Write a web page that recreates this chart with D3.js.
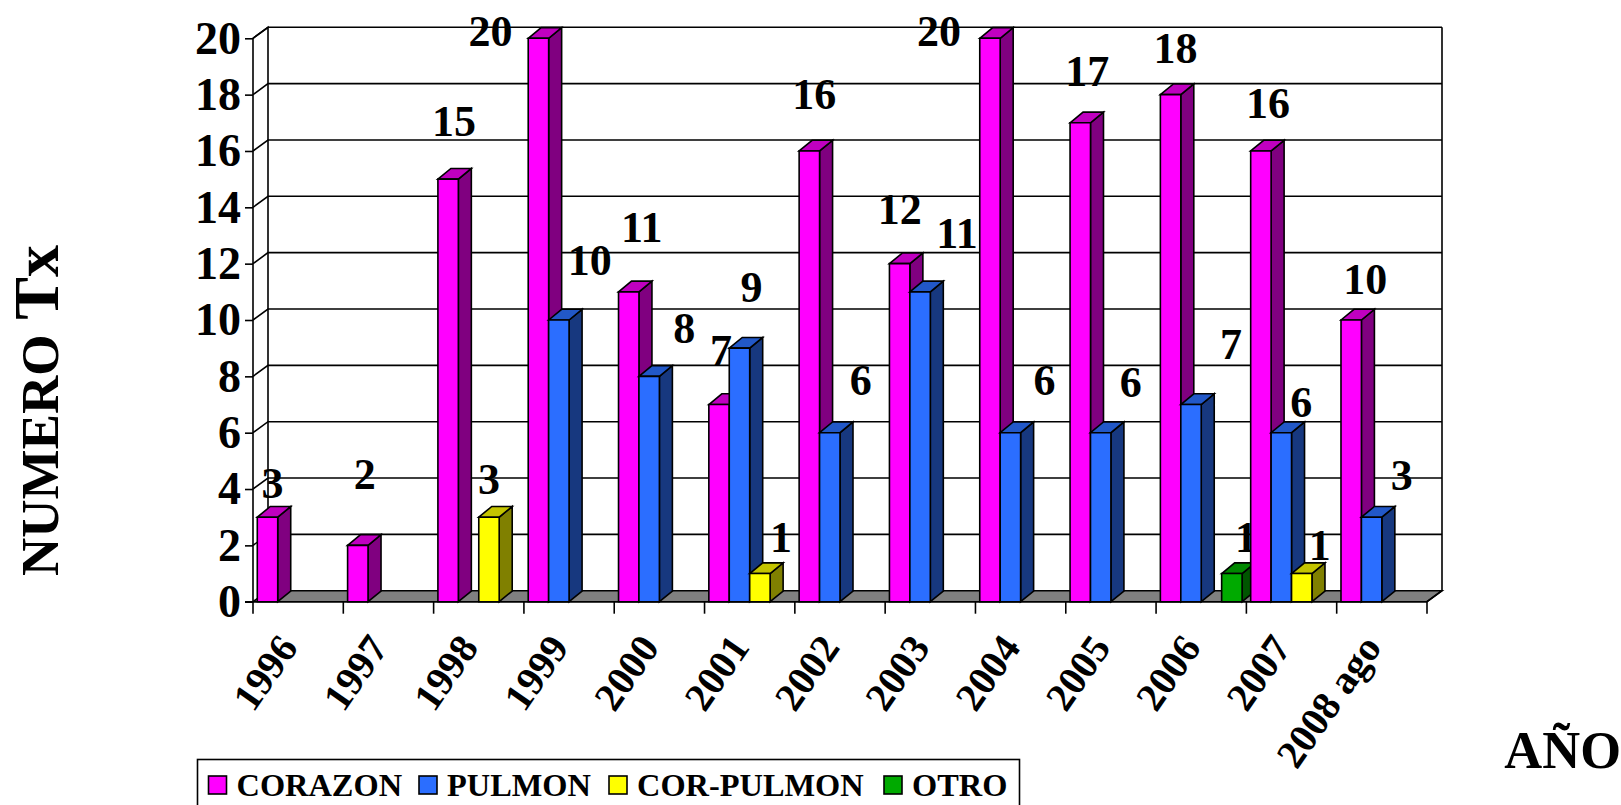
<!DOCTYPE html>
<html><head><meta charset="utf-8">
<script src="https://cdn.jsdelivr.net/npm/d3@7"></script>
<style>html,body{margin:0;padding:0;background:#fff}svg{display:block}text{font-family:"Liberation Serif",serif;font-weight:700;fill:#000}</style>
</head><body><div id="c"></div>
<script>
const categories=["1996","1997","1998","1999","2000","2001","2002","2003","2004","2005","2006","2007","2008 ago"];
const seriesNames=["CORAZON","PULMON","COR-PULMON","OTRO"];
const corazon=[3,2,15,20,11,7,16,12,20,17,18,16,10];
const pulmon=[0,0,0,10,8,9,6,11,6,6,7,6,3];
const corPulmon=[0,0,3,0,0,1,0,0,0,0,0,1,0];
const otro=[0,0,0,0,0,0,0,0,0,0,1,0,0];
const yTicks=[0,2,4,6,8,10,12,14,16,18,20];

const W=1621,H=805,L=253,R=1427,B=601.7,T=38.3,DX=15,DY=11,BDX=13,BDY=10.7;
const palette=[
 {f:"#FF00FF",s:"#800080",t:"#C000C0"},
 {f:"#2B6EFF",s:"#17387F",t:"#2258C8"},
 {f:"#FFFF00",s:"#808000",t:"#C4C400"},
 {f:"#00AA00",s:"#005500",t:"#008800"}];
// hand-placed data label centres in the source chart, as offsets from the bar's top centre
const labelNudge={
 "0-0":[5,-34],"0-1":[7,-71],"0-2":[6,-58],"0-3":[-48,-7],"0-4":[13,-64],"0-5":[2,-54],"0-6":[5,-56],"0-7":[0,-54],"0-8":[-51,-7],"0-9":[7,-51],"0-10":[5,-46],"0-11":[7,-47],"0-12":[14,-41],
 "1-3":[31,-60],"1-4":[35,-48],"1-5":[12,-61],"1-6":[31,-52],"1-7":[37,-58],"1-8":[34,-52],"1-9":[30,-50],"1-10":[40,-60],"1-11":[20,-30],"1-12":[30,-42],
 "2-2":[0,-38],"2-5":[21,-36],"2-11":[18,-28],
 "3-10":[14,-36]};

const allSeries=[corazon,pulmon,corPulmon,otro];
const svg=d3.select("#c").append("svg").attr("width",W).attr("height",H);
const x=d3.scaleBand().domain(categories).range([L,R]).paddingInner(0).paddingOuter(0);
const inner=d3.scaleBand().domain(d3.range(4)).range([0,x.bandwidth()]).paddingInner(0).paddingOuter(0.21);
const y=d3.scaleLinear().domain([0,20]).range([B,T]);
const K="#000",SW=1.6;

svg.append("path").attr("d",`M${L},${B}L${L+DX},${B-DY}H${R+DX}L${R},${B}Z`).attr("fill","#808080").attr("stroke",K).attr("stroke-width",SW);
const grid=svg.append("g");
yTicks.forEach(v=>{
 const yy=y(v);
 if(v>0) grid.append("path").attr("d",`M${L},${yy}L${L+DX},${yy-DY}H${R+DX}`).attr("fill","none").attr("stroke",K).attr("stroke-width",SW);
});
svg.append("path").attr("d",`M${L},${B}V${T}L${L+DX},${T-DY}V${B-DY}M${R+DX},${T-DY}V${B-DY}L${R},${B}`).attr("fill","none").attr("stroke",K).attr("stroke-width",SW);

const yAxis=svg.append("g").attr("transform",`translate(${L},0)`).call(d3.axisLeft(y).tickValues(yTicks).tickSize(8).tickPadding(4));
yAxis.select(".domain").remove();
yAxis.selectAll("line").attr("stroke",K).attr("stroke-width",SW);
yAxis.selectAll("text").style("font-family",'"Liberation Serif",serif').style("font-weight",700).style("font-size","46px").attr("fill",K);

categories.forEach((c,ci)=>{
 const g=svg.append("g");
 allSeries.forEach((vals,si)=>{
  const v=vals[ci]; if(!v) return;
  const x0=x(c)+inner(si),w=inner.bandwidth(),y0=y(v),p=palette[si];
  const st={stroke:K,"stroke-width":SW,"stroke-linejoin":"miter"};
  const add=(d,f)=>{const e=g.append("path").attr("d",d).attr("fill",f);Object.entries(st).forEach(([k,val])=>e.attr(k,val));};
  add(`M${x0+w},${B}L${x0+w+BDX},${B-BDY}V${y0-BDY}L${x0+w},${y0}Z`,p.s);
  add(`M${x0},${y0}L${x0+BDX},${y0-BDY}H${x0+w+BDX}L${x0+w},${y0}Z`,p.t);
  add(`M${x0},${B}V${y0}H${x0+w}V${B}Z`,p.f);
 });
 allSeries.forEach((vals,si)=>{
  const v=vals[ci]; if(!v) return;
  const n=labelNudge[si+"-"+ci]||[0,-40];
  g.append("text").attr("x",x(c)+inner(si)+inner.bandwidth()/2+n[0]).attr("y",y(v)+n[1])
   .attr("text-anchor","middle").attr("dominant-baseline","central").attr("font-size",44).text(v);
 });
});

svg.append("line").attr("x1",L-8).attr("x2",R).attr("y1",B).attr("y2",B).attr("stroke",K).attr("stroke-width",SW);
[...categories.map(c=>x(c)),R].forEach(px=>svg.append("line").attr("x1",px).attr("x2",px).attr("y1",B).attr("y2",B+12).attr("stroke",K).attr("stroke-width",SW));
const xAxis=svg.append("g").attr("transform",`translate(0,${B})`).call(d3.axisBottom(x).tickSize(0));
xAxis.select(".domain").remove();
xAxis.selectAll("text").attr("text-anchor","end").attr("dy",0).attr("y",0).attr("x",0)
 .attr("transform",d=>"translate(1,46) rotate(-55)")
 .style("font-family",'"Liberation Serif",serif').style("font-weight",700).style("font-size","40px").attr("fill",K);

const yTitle=svg.append("text").attr("transform","translate(58,576) rotate(-90)").attr("font-size",53);
yTitle.append("tspan").text("NUMERO");
yTitle.append("tspan").attr("font-size",64).text(" Tx");
svg.append("text").attr("x",1621).attr("y",768).attr("text-anchor","end").attr("font-size",52.5).text("AÑO");

svg.append("rect").attr("x",197.5).attr("y",759.5).attr("width",822).attr("height",60).attr("fill","#fff").attr("stroke",K).attr("stroke-width",SW);
const legendX=[208.5,419,609,884];
seriesNames.forEach((n,i)=>{
 svg.append("rect").attr("x",legendX[i]).attr("y",776).attr("width",18).attr("height",18).attr("fill",palette[i].f).attr("stroke",K).attr("stroke-width",SW);
 svg.append("text").attr("x",legendX[i]+28).attr("y",796).attr("font-size",32.4).text(n);
});
</script></body></html>
